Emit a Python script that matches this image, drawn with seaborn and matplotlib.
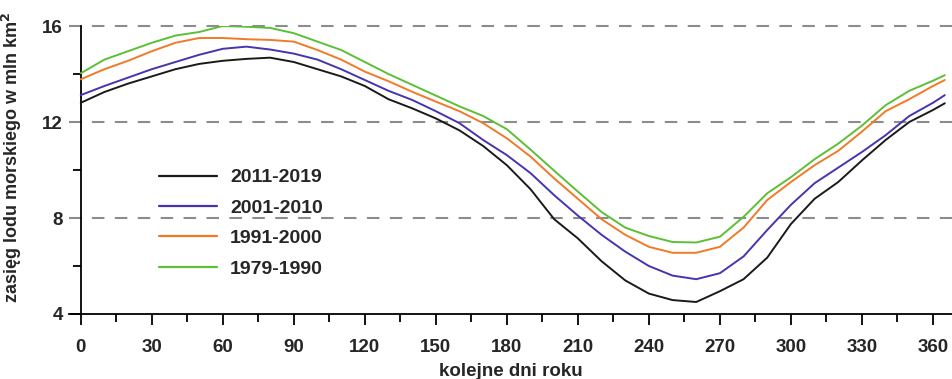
import pandas as pd
import matplotlib
matplotlib.use('Agg')
import matplotlib.pyplot as plt
from matplotlib.ticker import MultipleLocator
import seaborn as sns

# dni roku (wspolna siatka dla wszystkich serii)
days = [0, 10, 20, 30, 40, 50, 60, 70, 80, 90, 100, 110, 120, 130, 140, 150, 160, 170, 180,
        190, 200, 210, 220, 230, 240, 250, 260, 270, 280, 290, 300, 310, 320, 330, 340, 350, 360, 365]

ext_2011_2019 = [12.8, 13.25, 13.6, 13.9, 14.2, 14.42, 14.55, 14.63, 14.68, 14.5, 14.2, 13.9, 13.5, 12.95,
                 12.57, 12.15, 11.65, 11.0, 10.2, 9.2, 7.95, 7.15, 6.2, 5.4, 4.85, 4.58, 4.5, 4.95, 5.45, 6.35,
                 7.75, 8.8, 9.5, 10.4, 11.25, 12.0, 12.5, 12.78]
ext_2001_2010 = [13.12, 13.5, 13.85, 14.2, 14.5, 14.8, 15.05, 15.14, 15.02, 14.85, 14.6, 14.2, 13.75, 13.3,
                 12.92, 12.45, 11.95, 11.25, 10.62, 9.87, 8.95, 8.1, 7.3, 6.6, 6.0, 5.6, 5.45, 5.7, 6.4, 7.5,
                 8.55, 9.45, 10.1, 10.75, 11.45, 12.25, 12.8, 13.12]
ext_1991_2000 = [13.78, 14.2, 14.55, 14.95, 15.3, 15.5, 15.5, 15.45, 15.42, 15.35, 15.0, 14.6, 14.1, 13.7,
                 13.26, 12.85, 12.45, 11.95, 11.32, 10.56, 9.65, 8.8, 7.95, 7.3, 6.8, 6.55, 6.55, 6.8, 7.6,
                 8.75, 9.5, 10.2, 10.8, 11.6, 12.45, 12.95, 13.5, 13.75]
ext_1979_1990 = [14.03, 14.6, 14.95, 15.3, 15.6, 15.75, 16.0, 15.97, 15.92, 15.7, 15.35, 15.0, 14.5, 14.0,
                 13.55, 13.1, 12.65, 12.25, 11.7, 10.85, 9.97, 9.1, 8.25, 7.6, 7.25, 7.0, 6.98, 7.22, 8.05,
                 9.03, 9.7, 10.45, 11.1, 11.85, 12.7, 13.3, 13.72, 13.95]

periods = ['2011-2019', '2001-2010', '1991-2000', '1979-1990']
colors = {'2011-2019': '#1a1a1a', '2001-2010': '#4336b0', '1991-2000': '#f27a26', '1979-1990': '#5cbf35'}

frames = []
for name, vals in zip(periods, [ext_2011_2019, ext_2001_2010, ext_1991_2000, ext_1979_1990]):
    frames.append(pd.DataFrame({'day': days, 'ext': vals, 'okres': name}))
df = pd.concat(frames, ignore_index=True)

sns.set_style("white")
plt.rcParams['font.family'] = ['Liberation Sans', 'DejaVu Sans']
plt.rcParams['font.weight'] = 'bold'

fig = plt.figure(figsize=(9.53, 3.79), dpi=100)
ax = fig.add_axes([68.9 / 953, 65 / 379, 883 / 953, 288 / 379])

# przerywane linie pomocnicze
for yv in [8, 12, 16]:
    ax.axhline(yv, color='#8c8c8c', lw=1.5, ls=(0, (6, 5)), zorder=1, clip_on=False)

sns.lineplot(data=df, x='day', y='ext', hue='okres', hue_order=periods, palette=colors,
             lw=1.4, ax=ax, zorder=3)

ax.set_xlim(-5, 368)
ax.set_ylim(4, 16)
ax.spines['left'].set_position(('data', 0))
ax.spines['left'].set_bounds(4, 16)
ax.spines['top'].set_visible(False)
ax.spines['right'].set_visible(False)
for s in ['left', 'bottom']:
    ax.spines[s].set_color('black')
    ax.spines[s].set_linewidth(1.3)

ax.xaxis.set_major_locator(MultipleLocator(30))
ax.xaxis.set_minor_locator(MultipleLocator(15))
ax.yaxis.set_major_locator(MultipleLocator(4))
ax.yaxis.set_minor_locator(MultipleLocator(2))
ax.tick_params(axis='both', which='major', direction='out', length=8, width=1.3,
               labelsize=13.5, color='black', bottom=True, left=True)
ax.tick_params(axis='both', which='minor', direction='out', length=6, width=1.3,
               color='black', bottom=True, left=True)
ax.tick_params(axis='x', pad=10)
ax.tick_params(axis='y', pad=5)

ax.set_xlabel('kolejne dni roku', fontsize=13.5, fontweight='bold', labelpad=5)
ax.set_ylabel('zasięg lodu morskiego w mln km$^\\mathbf{2}$', fontsize=13, fontweight='bold')
ax.yaxis.set_label_coords(-0.051, 0.543)

leg = ax.legend(loc='upper left', bbox_to_anchor=(149 / 953, 1 - 159 / 379),
                bbox_transform=fig.transFigure, frameon=False, fontsize=14,
                handlelength=3.0, handletextpad=0.67, labelspacing=0.66, borderpad=0)
for line in leg.get_lines():
    line.set_linewidth(1.6)

fig.savefig('out.png', dpi=100)
